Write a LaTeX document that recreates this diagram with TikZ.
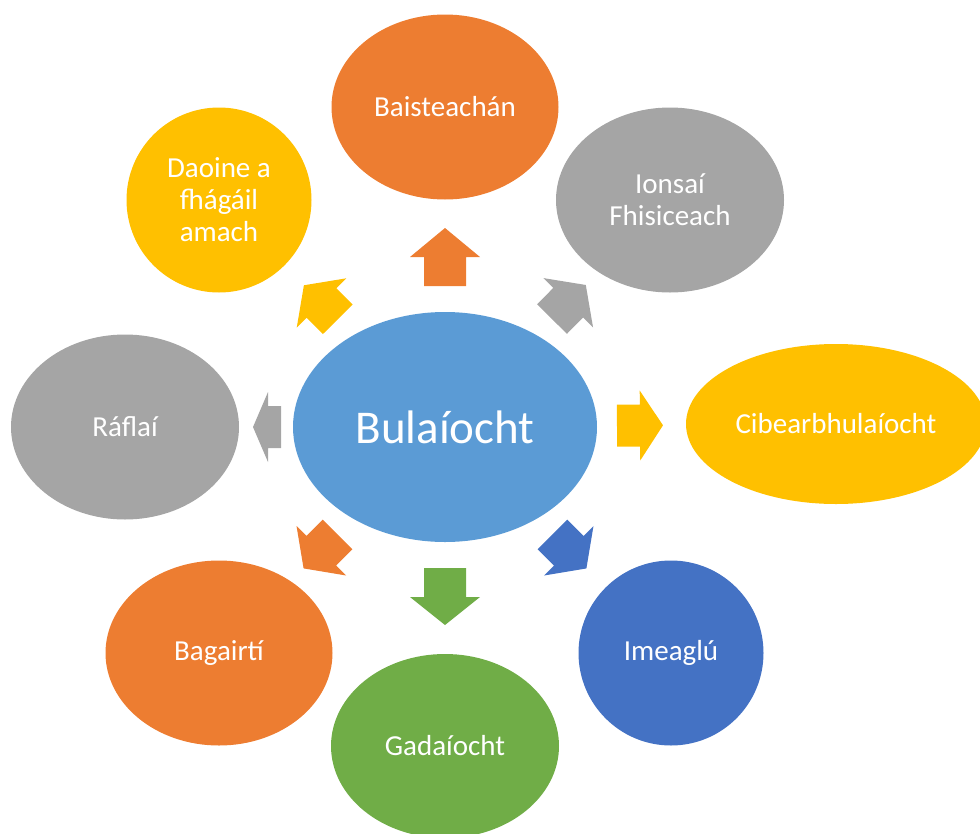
\documentclass[tikz,border=0pt]{standalone}
\usepackage{fontspec}
\setmainfont{Carlito}
\usetikzlibrary{shapes.geometric,calc}

\definecolor{accblue}{HTML}{5B9BD5}
\definecolor{accorange}{HTML}{ED7D31}
\definecolor{accgray}{HTML}{A5A5A5}
\definecolor{accgold}{HTML}{FFC000}
\definecolor{accnavy}{HTML}{4472C4}
\definecolor{accgreen}{HTML}{70AD47}

\tikzset{
    bubble/.style={ellipse, inner sep=0pt, text=white, align=center,
        font=\fontsize{29}{32}\selectfont},
}

% block arrow from the hub towards a satellite: #1 satellite, #2 start, #3 shaft, #4 head, #5 colour
\newcommand\spoke[5]{%
    \path let \p1=($(#1)-(bul)$), \n1={atan2(\y1,\x1)} in \pgfextra{\xdef\spokeangle{\n1}};
    \fill[#5, shift={(bul.center)}, rotate=\spokeangle]
        (#2,-21) -- ++(#3,0) -- ++(0,-14) -- ++(#4,35) -- ++(-#4,35)
        -- ++(0,-14) -- ++(-#3,0) -- cycle;}

\begin{document}
\begin{tikzpicture}[x=1pt, y=-1pt]
    \clip (0,0) rectangle (980,833);
    \useasboundingbox (0,0) rectangle (980,833);

    \node[bubble, fill=accblue, minimum width=304, minimum height=230,
        font=\fontsize{47}{50}\selectfont] (bul) at (445,427) {Bulaíocht};

    \node[bubble, fill=accorange, minimum width=227, minimum height=185] (bais) at (445,107) {Baisteachán};
    \node[bubble, fill=accgray, minimum width=228, minimum height=185] (ions) at (670,200) {Ionsaí\\Fhisiceach};
    \node[bubble, fill=accgold, minimum width=300, minimum height=160] (cibe) at (836,424) {Cibearbhulaíocht};
    \node[bubble, fill=accnavy, minimum width=185, minimum height=185] (imea) at (671,653) {Imeaglú};
    \node[bubble, fill=accgreen, minimum width=228, minimum height=184] (gada) at (445,746) {Gadaíocht};
    \node[bubble, fill=accorange, minimum width=227, minimum height=185] (baga) at (219,653) {Bagairtí};
    \node[bubble, fill=accgray, minimum width=228, minimum height=185] (rafl) at (125,427) {Ráflaí};
    \node[bubble, fill=accgold, minimum width=185, minimum height=185] (daoi) at (219,200) {Daoine a\\fhágáil\\amach};

    \foreach \sat/\rin/\sh/\hd/\col in {bais/141/29/29/accorange, ions/152/23/25/accgray,
        cibe/172/23/23/accgold, imea/152/23/25/accnavy, gada/141/29/28/accgreen,
        baga/152/23/25/accorange, rafl/164/13/15/accgray, daoi/152/23/25/accgold}
        \spoke{\sat}{\rin}{\sh}{\hd}{\col};

\end{tikzpicture}
\end{document}
